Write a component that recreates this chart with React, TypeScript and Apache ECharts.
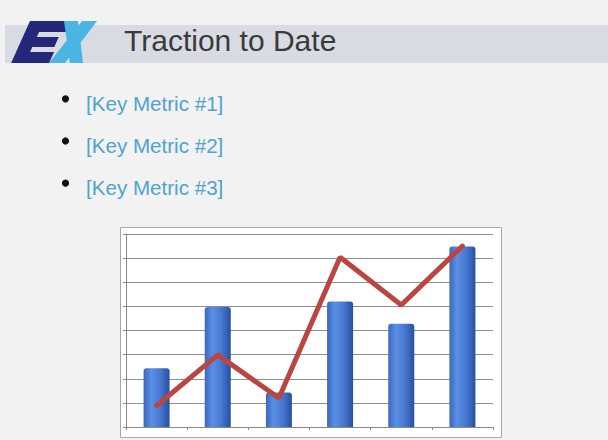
import React, { useEffect, useRef } from "react";
import * as echarts from "echarts";

const categories = ["1", "2", "3", "4", "5", "6"];
const barValues = [2.44, 4.97, 1.43, 5.2, 4.28, 7.48];
const lineValues = [0.88, 2.99, 1.2, 7.04, 5.06, 7.5];
const yMin = 0;
const yMax = 8;
const yInterval = 1;
const titleText = "Traction to Date";
const bulletItems = ["[Key Metric #1]", "[Key Metric #2]", "[Key Metric #3]"];

const FONT = "'Liberation Sans', Arial, Helvetica, sans-serif";

// E glyph in un-slanted coordinates (u, v)
const ePts: number[][] = [
  [0, 0], [42, 0], [42, 11], [14, 11], [14, 16], [36, 16], [36, 26],
  [14, 26], [14, 31], [38, 31], [38, 42], [0, 42],
];
const slant = (p: number[]) => [30 + p[0] - 0.45 * p[1], 21 + p[1]];

export default function App() {
  const ref = useRef<HTMLDivElement>(null);
  useEffect(() => {
    if (!ref.current) return;
    const chart = echarts.init(ref.current, null, { renderer: "svg" });

    const bulletGraphics: any[] = [];
    bulletItems.forEach((t, i) => {
      const cy = 103.3 + i * 42.2;
      bulletGraphics.push({
        type: "circle",
        shape: { cx: 65.5, cy: cy - 4.5, r: 3.6 },
        style: { fill: "#111" },
      });
      bulletGraphics.push({
        type: "text",
        x: 86,
        y: cy,
        style: {
          text: t,
          fill: "#4fa3cd",
          font: `20.6px ${FONT}`,
          verticalAlign: "middle",
          align: "left",
        },
      });
    });

    chart.setOption({
      animation: false,
      backgroundColor: "#f2f2f2",
      graphic: [
        {
          type: "rect",
          z: -5,
          shape: { x: 5, y: 25, width: 603, height: 38 },
          style: { fill: "#d8dbe2" },
        },
        {
          type: "polygon",
          z: 1,
          shape: { points: ePts.map(slant) },
          style: { fill: "#24277a" },
        },
        {
          type: "polygon",
          z: 2,
          shape: { points: [[64, 21], [78, 21], [83, 63], [70, 63]] },
          style: { fill: "#4ab4e2" },
        },
        {
          type: "polygon",
          z: 2,
          shape: { points: [[82, 21], [97, 21], [65, 63], [49, 63]] },
          style: { fill: "#4ab4e2" },
        },
        {
          type: "text",
          x: 124,
          y: 40.5,
          style: {
            text: titleText,
            fill: "#3a3a3a",
            font: `30px ${FONT}`,
            verticalAlign: "middle",
            align: "left",
          },
        },
        ...bulletGraphics,
        {
          type: "rect",
          z: -5,
          shape: { x: 120.5, y: 227.5, width: 381, height: 210 },
          style: { fill: "#ffffff", stroke: "#a8a8a8", lineWidth: 1 },
        },
      ],
      grid: { left: 126, right: 115, top: 234, bottom: 13 },
      xAxis: {
        type: "category",
        data: categories,
        axisLabel: { show: false },
        axisLine: { show: true, lineStyle: { color: "#8a8a8a", width: 1 } },
        axisTick: { show: true, length: 3, lineStyle: { color: "#8a8a8a" } },
        splitLine: { show: false },
      },
      yAxis: {
        type: "value",
        min: yMin,
        max: yMax,
        interval: yInterval,
        axisLabel: { show: false },
        axisLine: { show: true, lineStyle: { color: "#8a8a8a", width: 1 } },
        axisTick: { show: true, length: 3, lineStyle: { color: "#8a8a8a" } },
        splitLine: { show: true, lineStyle: { color: "#8f8f8f", width: 1 } },
      },
      series: [
        {
          type: "bar",
          data: barValues,
          barWidth: 26,
          itemStyle: {
            color: new echarts.graphic.LinearGradient(0, 0, 1, 0, [
              { offset: 0, color: "#3b68bd" },
              { offset: 0.3, color: "#5b8fe6" },
              { offset: 0.65, color: "#4577cf" },
              { offset: 1, color: "#28509d" },
            ]),
            borderRadius: [3, 3, 0, 0],
          },
        },
        {
          type: "line",
          data: lineValues,
          showSymbol: false,
          symbol: "none",
          lineStyle: { color: "#bb4540", width: 5, cap: "round" },
          z: 5,
        },
      ],
    });
    return () => chart.dispose();
  }, []);
  return (
    <div
      ref={ref}
      style={{ position: "absolute", left: 0, top: 0, width: 608, height: 440 }}
    />
  );
}
